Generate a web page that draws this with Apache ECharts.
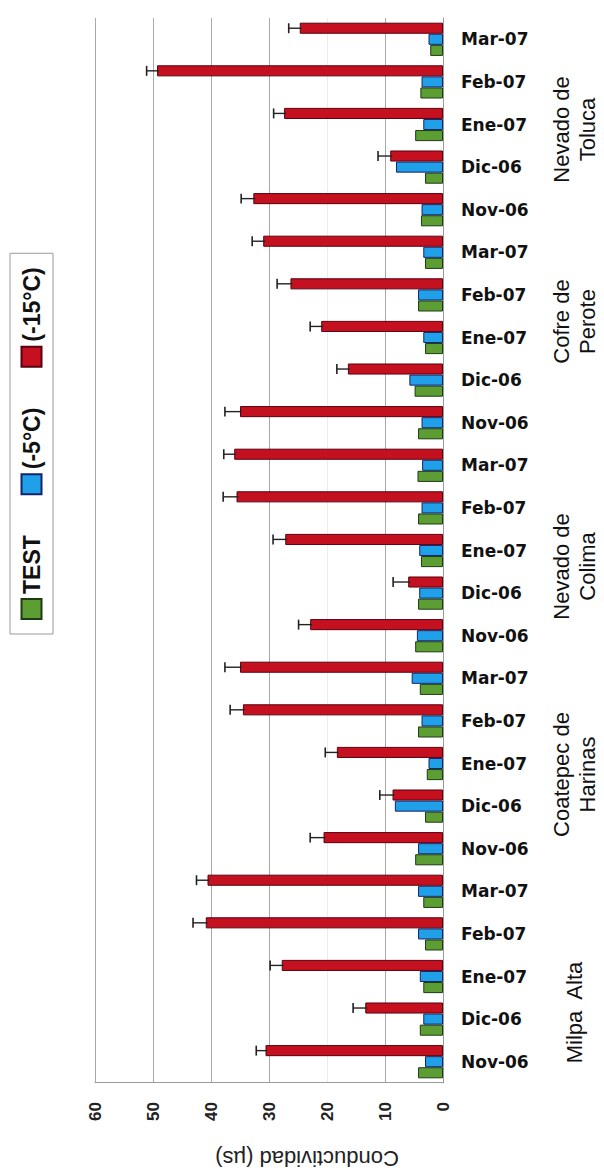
<!DOCTYPE html>
<html><head><meta charset="utf-8">
<script src="https://cdn.jsdelivr.net/npm/echarts@6/dist/echarts.min.js"></script>
<style>
html,body{margin:0;padding:0;background:#fff;overflow:hidden;width:604px;height:1174px;}
#wrap{position:absolute;left:0;top:0;width:1174px;height:604px;transform-origin:0 0;transform:translate(0,1174px) rotate(-90deg);}
</style></head><body><div id="wrap"></div>
<script>
// ---- data ----
const months = ['Nov-06','Dic-06','Ene-07','Feb-07','Mar-07'];
const sites = ['Milpa  Alta','Coatepec de\nHarinas','Nevado de\nColima','Cofre de\nPerote','Nevado de\nToluca'];
const categories = [].concat(months, months, months, months, months);
const seriesNames = ['TEST','(-5°C)','(-15°C)'];
const testValues =    [4.3, 4.0, 3.4, 3.1, 3.4,  4.8, 3.1, 2.8, 4.3, 4.0,  4.8, 4.3, 3.8, 4.3, 4.4,  4.3, 4.9, 3.1, 4.3, 3.1,  3.8, 3.1, 4.8, 3.9, 2.2];
const minus5Values =  [3.1, 3.4, 4.0, 4.3, 4.3,  4.3, 8.3, 2.5, 3.7, 5.4,  4.5, 4.1, 4.1, 3.7, 3.6,  3.7, 5.8, 3.4, 4.3, 3.4,  3.7, 8.1, 3.4, 3.7, 2.5];
const minus15Values = [30.6, 13.4, 27.8, 40.9, 40.6,  20.6, 8.7, 18.3, 34.5, 35.0,  22.9, 6.0, 27.2, 35.6, 36.0,  35.0, 16.4, 21.0, 26.3, 31.0,  32.7, 9.1, 27.4, 49.3, 24.7];
const minus15Errors = [1.6, 2.1, 2.0, 2.2, 1.9,  2.3, 2.2, 2.0, 2.2, 2.6,  2.0, 2.6, 2.1, 2.3, 1.8,  2.6, 1.9, 1.9, 2.3, 1.9,  2.1, 2.1, 1.8, 1.8, 1.9];
const valueTicks = [0, 10, 20, 30, 40, 50, 60];
const axisTitle = 'Conductividad (µs)';

// ---- layout ----
const GAP = 0.22;
const siteNudge = [-36, -11, -16, 16, -5];
const gridColors = ['#a8a8a8', '#a8a8a8', '#ececec', '#a8a8a8', '#a8a8a8', '#a8a8a8', '#a8a8a8'];

const chart = echarts.init(document.getElementById('wrap'), null, {renderer: 'svg', width: 1174, height: 604});
const errData = minus15Values.map((v, i) => [i, v, minus15Errors[i]]);

chart.setOption({
  backgroundColor: '#fff',
  animation: false,
  legend: {
    data: seriesNames,
    left: 540, top: 10,
    itemWidth: 20, itemHeight: 20, itemGap: 40,
    padding: [10, 14, 10, 14],
    borderColor: '#9a9a9a', borderWidth: 1,
    icon: 'rect',
    textStyle: {fontFamily: 'Liberation Sans', fontWeight: 'bold', fontSize: 23, color: '#111'}
  },
  grid: {left: 91, right: 18, top: 95, bottom: 161, containLabel: false, outerBoundsMode: 'none'},
  xAxis: {
    type: 'category',
    data: categories,
    axisLine: {show: true, lineStyle: {color: '#9a9a9a'}},
    axisTick: {show: false},
    axisLabel: {interval: 0, rotate: -90, margin: 18, fontFamily: 'DejaVu Sans', fontWeight: 'bold', fontSize: 17, color: '#111'}
  },
  yAxis: {
    type: 'value', min: valueTicks[0], max: valueTicks[valueTicks.length - 1], interval: valueTicks[1] - valueTicks[0],
    axisLine: {show: true, lineStyle: {color: '#9a9a9a'}},
    axisTick: {show: false},
    splitLine: {show: true, showMinLine: true, lineStyle: {color: gridColors, width: 1}},
    axisLabel: {margin: 19, fontFamily: 'Liberation Sans', fontWeight: 'bold', fontSize: 17, color: '#222'},
    name: axisTitle, nameLocation: 'middle', nameRotate: 90, nameGap: 64,
    nameTextStyle: {fontFamily: 'Liberation Sans', fontSize: 22, color: '#222', padding: [0, 76, 0, 0]}
  },
  series: [
    {name: seriesNames[0], type: 'bar', data: testValues, barGap: '0%', barCategoryGap: (GAP * 100) + '%',
     itemStyle: {color: '#5c9e33', borderColor: '#1e3a12', borderWidth: 1}},
    {name: seriesNames[1], type: 'bar', data: minus5Values, barGap: '0%', barCategoryGap: (GAP * 100) + '%',
     itemStyle: {color: '#1fa0e8', borderColor: '#14246a', borderWidth: 1}},
    {name: seriesNames[2], type: 'bar', data: minus15Values, barGap: '0%', barCategoryGap: (GAP * 100) + '%',
     itemStyle: {color: '#c5101f', borderColor: '#5a0010', borderWidth: 1}},
    {type: 'custom', data: errData, z: 5, silent: true,
     renderItem: function (params, api) {
       const idx = api.value(0), v = api.value(1), e = api.value(2);
       const base = api.coord([idx, v]);
       const tip = api.coord([idx, v + e]);
       const catW = api.size([1, 0])[0];
       const barW = catW * (1 - GAP) / 3;
       const x = base[0] + barW;
       const cap = barW * 0.45;
       return {type: 'group', children: [
         {type: 'line', shape: {x1: x, y1: base[1] + 2, x2: x, y2: tip[1]}, style: {stroke: '#222', lineWidth: 1.4}},
         {type: 'line', shape: {x1: x - cap, y1: tip[1], x2: x + cap, y2: tip[1]}, style: {stroke: '#222', lineWidth: 1.6}}
       ]};
     }}
  ]
});

// site (group) labels under the month labels
const labelY = 574;
const graphics = sites.map((s, g) => {
  const mid = g * months.length + Math.floor(months.length / 2);
  const px = chart.convertToPixel({xAxisIndex: 0}, mid);
  return {type: 'text', x: px + siteNudge[g], y: labelY,
    style: {text: s, fontFamily: 'Liberation Sans', fontSize: 22, lineHeight: 26, fill: '#111', align: 'center', verticalAlign: 'middle'}};
});
chart.setOption({graphic: graphics});
</script></body></html>
